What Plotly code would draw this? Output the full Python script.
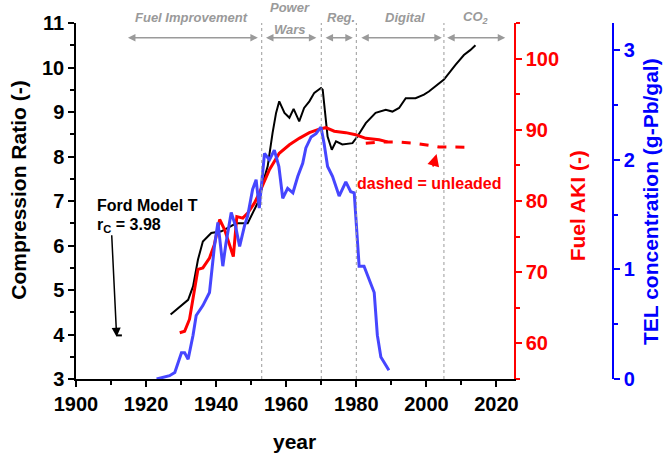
import plotly.graph_objects as go

# Compression ratio (black, left axis)
cr_years = [1927, 1929.3, 1932, 1933.4, 1934.8, 1936.2, 1938.6, 1941.5, 1943.5, 1945.7, 1949,
            1950.9, 1952.3, 1953.3, 1954.7, 1956.1, 1957.1, 1958, 1959.5, 1960.9, 1962.1,
            1963.7, 1965.1, 1966.6, 1968, 1969.9, 1970.4, 1971.8, 1973, 1974.2, 1976, 1978.9,
            1980.3, 1982.7, 1985.5, 1988.4, 1990.3, 1992.2, 1994.1, 1996.9, 1999.3, 2000.7,
            2002.6, 2005, 2008.3, 2010.7, 2012.5, 2014]
cr_values = [4.45, 4.6, 4.78, 5.08, 5.68, 6.09, 6.28, 6.32, 6.4, 6.5, 6.5,
             6.8, 7.03, 7.4, 7.78, 8.53, 8.98, 9.24, 8.98, 8.87, 9.07,
             8.79, 9.09, 9.24, 9.43, 9.54, 9.5, 8.45, 8.15, 8.34, 8.27, 8.3,
             8.45, 8.75, 8.98, 9.05, 9.01, 9.09, 9.31, 9.31, 9.39, 9.46,
             9.58, 9.73, 10.06, 10.28, 10.39, 10.5]

# Ford Model T
model_t_years = [1911.6, 1913.1]
model_t_cr = [3.98, 3.98]

# Fuel AKI (red, leaded, solid)
aki_years = [1929.6, 1931, 1932.4, 1933.9, 1934.8, 1936.2, 1938.1, 1939.5, 1941, 1942.4,
             1943.8, 1944.9, 1945.9, 1947.6, 1949, 1950.9, 1952.3, 1955.2, 1958, 1960.9,
             1963.7, 1966.6, 1969.4, 1971.3, 1973.7, 1977, 1979.8, 1982.7, 1986.5, 1988.9]
aki_values = [61.5, 61.7, 63.4, 67.6, 70.4, 70.6, 72.0, 73.9, 77.4, 76.0,
              73.9, 72.2, 77.8, 77.6, 78.3, 79.7, 81.1, 84.4, 86.7, 87.9,
              88.8, 89.6, 90.1, 90.3, 89.8, 89.6, 89.3, 88.8, 88.6, 88.3]

# Fuel AKI (red, unleaded, dashed)
unl_years = [1982.7, 1987, 1991.2, 1996.9, 2003.6, 2013]
unl_values = [88.1, 88.3, 88.3, 88.1, 87.6, 87.55]

# TEL concentration (blue)
tel_years = [1923, 1926.7, 1928.2, 1930.1, 1931, 1932, 1933.4, 1934.3, 1936.2, 1938.1,
             1939.5, 1940.5, 1941.9, 1942.8, 1944.3, 1945.5, 1946.7, 1948.1, 1949, 1950.4,
             1951.4, 1952.3, 1953.8, 1955.2, 1956.6, 1957.9, 1959, 1960.4, 1961.9, 1963.3,
             1964.7, 1965.6, 1967.1, 1968.5, 1969.9, 1970.8, 1971.8, 1973.2, 1975.1, 1977,
             1978.4, 1979.4, 1980.8, 1982.2, 1985.1, 1986, 1987, 1989.3]
tel_values = [0.0, 0.03, 0.06, 0.24, 0.24, 0.18, 0.40, 0.58, 0.67, 0.79,
              1.21, 1.43, 1.03, 1.24, 1.52, 1.40, 1.21, 1.40, 1.49, 1.73,
              1.82, 1.56, 2.06, 2.0, 2.09, 1.94, 1.65, 1.74, 1.70, 1.85,
              1.97, 2.11, 2.21, 2.24, 2.30, 2.15, 1.94, 1.85, 1.67, 1.80,
              1.71, 1.70, 1.03, 1.03, 0.79, 0.40, 0.20, 0.08]

# eras
era_bounds = [1953, 1970, 1980, 2005]
era_names = ["Fuel Improvement", "Power", "Wars", "Reg.", "Digital", "CO<sub>2</sub>"]
era_label_x = [1933, 1961, 1961, 1975.6, 1994, 2014]
era_label_y = [1.015, 1.044, 0.981, 1.015, 1.015, 1.015]
era_arrow_start = [1914.4, 1953.8, 1970.8, 1981, 2005.5]
era_arrow_end = [1951.9, 1968.6, 1979, 2004.4, 2022.5]

FONT = "Liberation Sans, Arial, sans-serif"
BLUE = "rgb(70,70,255)"
GRAY = "#9a9a9a"

fig = go.Figure()

fig.add_trace(go.Scatter(x=cr_years, y=cr_values, mode="lines",
                         line=dict(color="black", width=2), yaxis="y"))
fig.add_trace(go.Scatter(x=model_t_years, y=model_t_cr, mode="lines",
                         line=dict(color="black", width=2), yaxis="y"))
fig.add_trace(go.Scatter(x=aki_years, y=aki_values, mode="lines",
                         line=dict(color="red", width=3), yaxis="y2"))
fig.add_trace(go.Scatter(x=unl_years, y=unl_values, mode="lines",
                         line=dict(color="red", width=3, dash="dash"), yaxis="y2"))
fig.add_trace(go.Scatter(x=tel_years, y=tel_values, mode="lines",
                         line=dict(color=BLUE, width=3), yaxis="y3"))

# era separators
for b in era_bounds:
    fig.add_shape(type="line", xref="x", yref="paper", x0=b, x1=b, y0=0, y1=1,
                  line=dict(color=GRAY, width=1, dash="dot"))

annotations = []
for name, lx, ly in zip(era_names, era_label_x, era_label_y):
    annotations.append(dict(x=lx, y=ly, xref="x", yref="paper", text="<i><b>" + name + "</b></i>",
                            showarrow=False, font=dict(family=FONT, size=13, color=GRAY),
                            xanchor="center", yanchor="middle"))
for s, e in zip(era_arrow_start, era_arrow_end):
    annotations.append(dict(x=e, y=10.67, ax=s, ay=10.67, xref="x", yref="y",
                            axref="x", ayref="y", text="", showarrow=True,
                            arrowside="end+start", arrowhead=2, startarrowhead=2,
                            arrowsize=1, startarrowsize=1, arrowwidth=1.5, arrowcolor=GRAY))

annotations += [
    dict(x=1905.4, y=6.89, xref="x", yref="y", text="<b>Ford Model T</b>", showarrow=False,
         xanchor="left", font=dict(family=FONT, size=16, color="black")),
    dict(x=1905.4, y=6.45, xref="x", yref="y", text="<b>r<sub>C</sub> = 3.98</b>", showarrow=False,
         xanchor="left", font=dict(family=FONT, size=16, color="black")),
    dict(x=1911.6, y=3.95, xref="x", yref="y", text="", showarrow=True, ax=-5, ay=-103,
         arrowhead=2, arrowsize=1.2, arrowwidth=1.5, arrowcolor="black", standoff=0),
    dict(x=2000.7, y=82.5, xref="x", yref="y2", text="<b>dashed = unleaded</b>", showarrow=False,
         font=dict(family=FONT, size=16, color="red")),
    dict(x=2002.9, y=86.6, xref="x", yref="y2", text="", showarrow=True, ax=-4, ay=14,
         arrowhead=2, arrowsize=1.2, arrowwidth=2, arrowcolor="red", standoff=0),
    # axis titles
    dict(x=-0.1005, y=0.529, xref="paper", yref="paper", text="<b>Compression Ratio (-)</b>",
         textangle=-90, showarrow=False, xanchor="center", yanchor="middle",
         font=dict(family=FONT, size=21, color="black")),
    dict(x=0.8836, y=0.485, xref="paper", yref="paper", text="<b>Fuel AKI (-)</b>",
         textangle=-90, showarrow=False, xanchor="center", yanchor="middle",
         font=dict(family=FONT, size=21, color="red")),
    dict(x=1.0123, y=0.5, xref="paper", yref="paper", text="<b>TEL concentration (g-Pb/gal)</b>",
         textangle=-90, showarrow=False, xanchor="center", yanchor="middle",
         font=dict(family=FONT, size=21, color="blue")),
    dict(x=0.386, y=-0.176, xref="paper", yref="paper", text="<b>year</b>",
         showarrow=False, xanchor="center", yanchor="middle",
         font=dict(family=FONT, size=21, color="black")),
]

tick_font = dict(family=FONT, size=20, weight="bold")

fig.update_layout(
    width=663, height=459,
    margin=dict(l=76, r=20, t=23, b=80),
    plot_bgcolor="white", paper_bgcolor="white",
    showlegend=False,
    font=dict(family=FONT, color="black"),
    annotations=annotations,
    xaxis=dict(domain=[0, 0.7725], range=[1900, 2025], dtick=20, automargin=False,
               ticks="outside", ticklen=6, tickwidth=1.5, tickcolor="black",
               showline=True, linecolor="black", linewidth=1.5,
               showgrid=False, zeroline=False,
               minor=dict(dtick=10, ticks="outside", ticklen=4, tickcolor="black", showgrid=False),
               tickfont=tick_font),
    yaxis=dict(range=[3, 11], dtick=1, automargin=False,
               ticks="outside", ticklen=6, tickwidth=1.5, tickcolor="black",
               showline=True, linecolor="black", linewidth=1.5,
               showgrid=False, zeroline=False,
               minor=dict(dtick=0.5, ticks="outside", ticklen=4, tickcolor="black", showgrid=False),
               tickfont=tick_font),
    yaxis2=dict(range=[55, 105], dtick=10, overlaying="y", side="right", anchor="x",
                automargin=False,
                ticks="outside", ticklen=6, tickwidth=1.5, tickcolor="red",
                showline=True, linecolor="red", linewidth=1.5,
                showgrid=False, zeroline=False,
                minor=dict(dtick=5, ticks="outside", ticklen=4, tickcolor="red", showgrid=False),
                tickfont=dict(family=FONT, size=20, weight="bold", color="red")),
    yaxis3=dict(range=[0, 3.25], dtick=1, overlaying="y", side="right", anchor="free",
                position=0.947, automargin=False,
                ticks="outside", ticklen=6, tickwidth=1.5, tickcolor="blue",
                showline=True, linecolor="blue", linewidth=1.5,
                showgrid=False, zeroline=False,
                minor=dict(dtick=0.5, ticks="outside", ticklen=4, tickcolor="blue", showgrid=False),
                tickfont=dict(family=FONT, size=20, weight="bold", color="blue")),
)

# drop the default page margin so the 663x459 figure fills the window exactly
fig.write_html("out.html", config={"displayModeBar": False},
               post_script="document.body.style.margin='0';document.body.style.overflow='hidden';")
